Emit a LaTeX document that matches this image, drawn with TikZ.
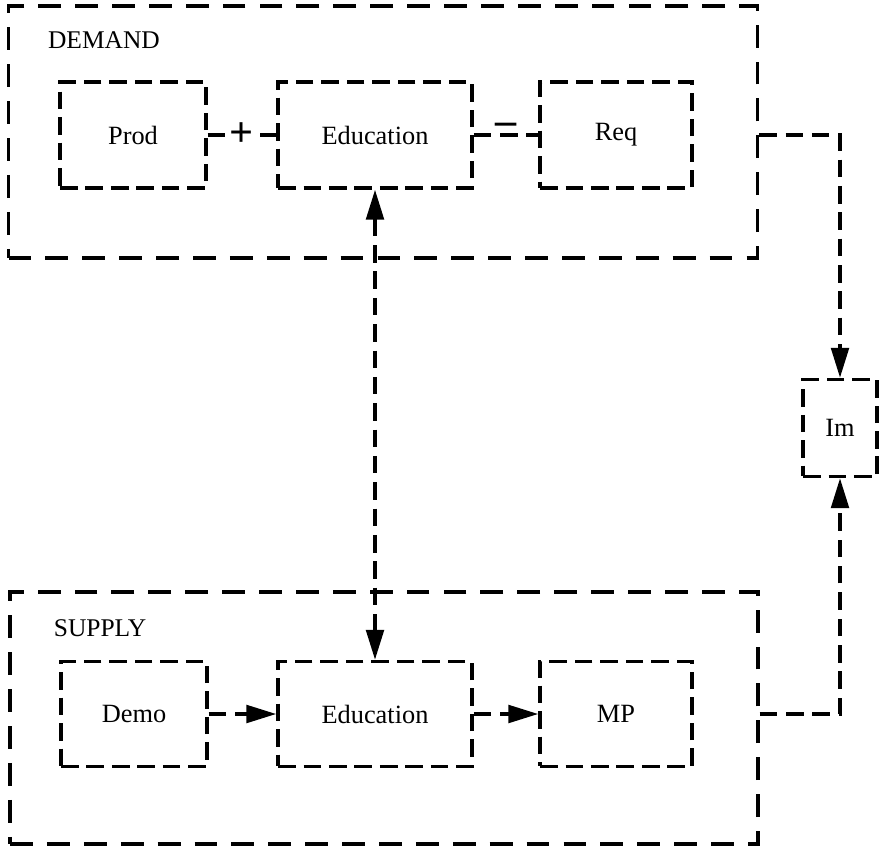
\documentclass[tikz,border=0pt]{standalone}
\usepackage{fontspec}
\setmainfont{Liberation Serif}
\usetikzlibrary{arrows.meta}

\tikzset{
  dbox/.style={draw, line width=2pt, dash pattern=on 10pt off 4.5pt, font=\fontsize{15}{17}\selectfont},
  groupbox/.style={draw, line width=2pt, dash pattern=on 13pt off 8pt},
  grouplbl/.style={font=\fontsize{14.5}{17}\selectfont},
  sign/.style={font=\bfseries\fontsize{24}{26}\selectfont, inner sep=1pt},
  link/.style={line width=2pt, dash pattern=on 10pt off 5pt},
  tip/.style={-{Triangle[length=17pt,width=10pt]}},
}

\begin{document}
\begin{tikzpicture}[x=0.02cm, y=-0.02cm]
  \useasboundingbox (0,0) rectangle (884,847);

  % Groups
  \node[groupbox, minimum width=14.98cm, minimum height=5.04cm] (demand) at (383,132) {};
  \node[grouplbl] (demandlbl) at (104,40) {DEMAND};
  \node[groupbox, minimum width=14.96cm, minimum height=5.04cm] (supply) at (384,718) {};
  \node[grouplbl] (supplylbl) at (100,628) {SUPPLY};

  % Demand side
  \node[dbox, minimum width=2.92cm, minimum height=2.12cm] (prod) at (133,135) {Prod};
  \node[dbox, minimum width=3.88cm, minimum height=2.12cm] (edu1) at (375,135) {Education};
  \node[dbox, minimum width=3.04cm, minimum height=2.12cm] (req) at (616,135) {Req};

  % Supply side
  \node[dbox, minimum width=2.92cm, minimum height=2.10cm] (demo) at (134,714) {Demo};
  \node[dbox, minimum width=3.88cm, minimum height=2.10cm] (edu2) at (375,714) {Education};
  \node[dbox, minimum width=3.04cm, minimum height=2.10cm] (mp) at (616,714) {MP};

  % Imbalance
  \node[dbox, minimum width=1.48cm, minimum height=1.94cm] (im) at (840,428) {Im};

  % Connections
  \draw[link] (prod) -- node[sign, fill=white] {+} (edu1);
  \draw[link] (edu1) -- node[sign, above=-2pt] {--} (req);
  \draw[link, {Triangle[length=17pt,width=10pt]}-{Triangle[length=17pt,width=10pt]}] (edu1.south) -- (edu2.north);
  \draw[link, tip] (demo) -- (edu2);
  \draw[link, tip] (edu2) -- (mp);
  \draw[link, tip] (demand.east |- req) -| (im.north);
  \draw[link, tip] (supply.east |- mp) -| (im.south);
\end{tikzpicture}
\end{document}
